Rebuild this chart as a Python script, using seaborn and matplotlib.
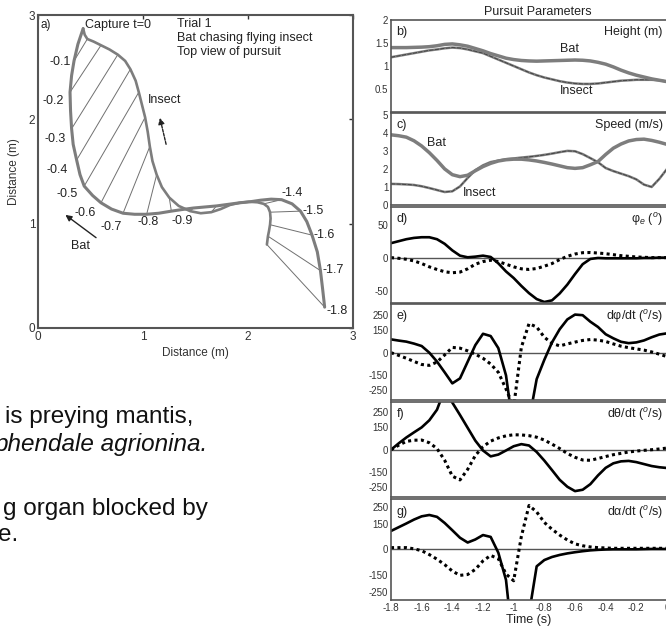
import numpy as np
import matplotlib
matplotlib.use("Agg")
import matplotlib.pyplot as plt
import seaborn as sns

# ── DATA ─────────────────────────────────────────────────────────────────────
# sample times of every series (s, 0.05 s apart, t=0 is capture)
TIME = np.linspace(-1.8, 0.0, 37)

# a) top view of the pursuit (m)
BAT_X = [2.73, 2.71, 2.69, 2.66, 2.61, 2.56, 2.50, 2.42, 2.32, 2.22, 2.12, 2.02, 1.92,
         1.81, 1.70, 1.59, 1.48, 1.37, 1.27, 1.15, 1.035, 0.92, 0.81, 0.70, 0.60, 0.52,
         0.44, 0.40, 0.368, 0.335, 0.32, 0.31, 0.305, 0.32, 0.343, 0.38, 0.43]
BAT_Y = [0.20, 0.38, 0.55, 0.73, 0.89, 1.02, 1.12, 1.19, 1.23, 1.235, 1.225, 1.21, 1.20,
         1.185, 1.17, 1.16, 1.15, 1.135, 1.12, 1.10, 1.09, 1.09, 1.10, 1.14, 1.20, 1.27,
         1.36, 1.47, 1.61, 1.76, 1.91, 2.08, 2.26, 2.42, 2.56, 2.72, 2.87]
INSECT_X = [2.18, 2.185, 2.19, 2.20, 2.21, 2.215, 2.21, 2.19, 2.15, 2.09, 2.01, 1.92, 1.83,
            1.74, 1.65, 1.55, 1.45, 1.34, 1.25, 1.18, 1.13, 1.09, 1.065, 1.045, 1.02, 0.99,
            0.96, 0.93, 0.88, 0.83, 0.76, 0.68, 0.60, 0.53, 0.47, 0.445, 0.43]
INSECT_Y = [0.80, 0.84, 0.88, 0.93, 0.99, 1.05, 1.11, 1.16, 1.19, 1.205, 1.21, 1.20, 1.18,
            1.14, 1.11, 1.10, 1.12, 1.17, 1.25, 1.35, 1.47, 1.60, 1.74, 1.88, 2.02, 2.14,
            2.26, 2.37, 2.48, 2.56, 2.62, 2.67, 2.71, 2.745, 2.77, 2.81, 2.87]

# b) height (m)
HEIGHT_BAT = [1.40, 1.40, 1.40, 1.405, 1.41, 1.42, 1.44, 1.47, 1.48, 1.46, 1.43, 1.38, 1.33,
              1.27, 1.22, 1.17, 1.14, 1.12, 1.11, 1.105, 1.11, 1.115, 1.12, 1.125, 1.13,
              1.125, 1.11, 1.08, 1.04, 0.98, 0.91, 0.85, 0.80, 0.76, 0.72, 0.69, 0.66]
HEIGHT_INSECT = [1.19, 1.22, 1.25, 1.28, 1.31, 1.34, 1.36, 1.385, 1.40, 1.39, 1.36, 1.32,
                 1.28, 1.21, 1.14, 1.07, 1.00, 0.93, 0.86, 0.80, 0.75, 0.71, 0.67, 0.64,
                 0.62, 0.61, 0.61, 0.62, 0.64, 0.66, 0.68, 0.69, 0.70, 0.70, 0.70, 0.69, 0.66]

# c) speed (m/s)
SPEED_BAT = [3.89, 3.84, 3.76, 3.56, 3.27, 2.90, 2.47, 2.00, 1.68, 1.57, 1.65, 1.90, 2.13,
             2.31, 2.44, 2.51, 2.54, 2.54, 2.50, 2.44, 2.36, 2.27, 2.17, 2.07, 2.03, 2.07,
             2.23, 2.41, 2.80, 3.15, 3.38, 3.55, 3.63, 3.65, 3.58, 3.48, 3.36]
SPEED_INSECT = [1.17, 1.16, 1.14, 1.11, 1.04, 0.94, 0.83, 0.72, 0.76, 1.03, 1.50, 1.93, 2.20,
                2.38, 2.46, 2.54, 2.58, 2.63, 2.67, 2.72, 2.78, 2.85, 2.93, 3.00, 2.98, 2.82,
                2.60, 2.37, 2.05, 1.88, 1.74, 1.60, 1.42, 1.13, 1.00, 1.45, 2.00]

# d) phi_e (deg)
PHI_SOLID = [22, 25, 28, 30, 31, 31, 28, 21, 11, 3, 0.5, 1.5, 3, 1, -8.7, -21, -31, -43, -54,
             -63, -67.5, -65, -54.5, -41, -25, -10, -2, -0.5, -1, -1, -1, -1, -1, -0.5, -0.5,
             0, 0]
PHI_DOTTED = [0, -1, -2.5, -5, -9, -14, -18, -21.5, -23, -22, -17, -10, -6, -4, -6, -10, -14,
              -17, -18, -16.5, -13, -9, -3, 2, 5.5, 7.5, 7.8, 7, 6, 4.5, 3, 2, 1, 0.5, 0, 0, 0]

# e) dphi/dt (deg/s)
DPHI_SOLID = [88, 80, 73, 60, 44, 0, -59, -130, -203, -170, -60, 50, 125, 110, 30, -150, -520,
              -800, -450, -175, -47, 68, 155, 220, 252, 248, 205, 170, 122, 95, 72, 63, 68, 81,
              102, 120, 128]
DPHI_DOTTED = [0, -18, -37, -58, -78, -84, -62, -15, 35, 30, 12, -10, -37, -75, -130, -240,
               -360, 35, 192, 170, 102, 62, 45, 58, 70, 81, 87, 83, 74, 58, 43, 33, 25, 17, 5,
               -10, -26]

# f) dtheta/dt (deg/s)
DTHETA_SOLID = [0, 42, 81, 115, 148, 195, 265, 400, 312, 230, 145, 60, -5, -44, -32, -5, 23,
                37, 28, -15, -72, -135, -199, -245, -274, -265, -228, -170, -120, -90, -77, -74,
                -82, -95, -108, -116, -121]
DTHETA_DOTTED = [0, 30, 55, 63, 64, 46, 8, -70, -175, -200, -130, -38, 20, 57, 78, 92, 99, 98,
                 93, 83, 64, 37, 8, -25, -50, -68, -70, -58, -45, -33, -24, -15, -9, -4, 0, 5, 11]

# g) dalpha/dt (deg/s)
DALPHA_SOLID = [108, 130, 152, 175, 194, 202, 191, 155, 112, 68, 40, 58, 84, 73, -20, -180,
                -600, -900, -380, -100, -63, -45, -33, -24, -17, -11, -6, -3, -1, 0, 0, 0, 0,
                1, 2, 2, 2]
DALPHA_DOTTED = [10, 10, 10, 3, -8, -31, -58, -90, -128, -153, -148, -118, -68, -36, -55, -145,
                 -185, 75, 258, 220, 158, 118, 84, 55, 32, 21, 14, 10, 8, 6, 6, 6, 6, 6, 6, 6, 6]

TIME_TICKS = [-1.8, -1.6, -1.4, -1.2, -1.0, -0.8, -0.6, -0.4, -0.2, 0.0]
RATE_TICKS = [-250, -150, 0, 150, 250]

# ── STYLE ────────────────────────────────────────────────────────────────────
sns.set_theme(style="white")
plt.rcParams["font.family"] = ["Liberation Sans", "DejaVu Sans"]
plt.rcParams["mathtext.fontset"] = "custom"
plt.rcParams["mathtext.rm"] = "Liberation Sans"
plt.rcParams["mathtext.it"] = "Liberation Sans:italic"

GREY = "#7d7d7d"
FRAME = "#555555"
INK = "#222222"
DOTS = (0, (1, 1.1))

W, H = 666, 633
fig = plt.figure(figsize=(W / 100, H / 100), dpi=100)


def box(l, t, r, b):
    # pixel box -> figure fraction
    return [l / W, 1 - b / H, (r - l) / W, (b - t) / H]


# ═════════════════════════════════════════════════════════════════════════════
# a) top view
# ═════════════════════════════════════════════════════════════════════════════
ax = fig.add_axes(box(38, 15, 353, 328))
for i in range(0, len(TIME), 2):
    ax.plot([BAT_X[i], INSECT_X[i]], [BAT_Y[i], INSECT_Y[i]], color="#707070", lw=0.7)
sns.lineplot(x=INSECT_X, y=INSECT_Y, sort=False, estimator=None, color=GREY, lw=1.9, ax=ax)
sns.lineplot(x=BAT_X, y=BAT_Y, sort=False, estimator=None, color=GREY, lw=2.2, ax=ax)

ax.set_xlim(0, 3)
ax.set_ylim(0, 3)
ax.set_xticks([0, 1, 2, 3])
ax.set_yticks([0, 1, 2, 3])
ax.tick_params(direction="in", length=3, width=1, labelsize=8.5, colors="#333",
               top=True, right=True, pad=2)
for s in ax.spines.values():
    s.set_color(FRAME)
    s.set_linewidth(1.5)
ax.set_xlabel("Distance (m)", fontsize=8.5, color="#333", labelpad=3)
ax.set_ylabel("Distance (m)", fontsize=8.5, color="#333", labelpad=6)

time_labels = [("-0.1", 0.21, 2.55), ("-0.2", 0.146, 2.18), ("-0.3", 0.162, 1.815),
               ("-0.4", 0.178, 1.51), ("-0.5", 0.273, 1.28), ("-0.6", 0.448, 1.10),
               ("-0.7", 0.70, 0.97), ("-0.8", 1.05, 1.017), ("-0.9", 1.37, 1.03),
               ("-1.4", 2.42, 1.29), ("-1.5", 2.62, 1.12), ("-1.6", 2.73, 0.89),
               ("-1.7", 2.81, 0.56), ("-1.8", 2.845, 0.165)]
for lab, x, y in time_labels:
    ax.text(x, y, lab, fontsize=9, color=INK, ha="center", va="center")

ax.text(0.07, 2.90, "a)", fontsize=8.5, color=INK, ha="center", va="center")
ax.text(0.45, 2.90, "Capture t=0", fontsize=9, color=INK, ha="left", va="center")
ax.text(1.32, 2.915, "Trial 1", fontsize=9, color=INK, ha="left", va="center")
ax.text(1.32, 2.78, "Bat chasing flying insect", fontsize=9, color=INK, ha="left", va="center")
ax.text(1.32, 2.645, "Top view of pursuit", fontsize=9, color=INK, ha="left", va="center")
ax.text(1.05, 2.19, "Insect", fontsize=9, color=INK, ha="left", va="center")
ax.text(0.40, 0.79, "Bat", fontsize=9, color=INK, ha="center", va="center")
ax.annotate("", xy=(1.155, 2.04), xytext=(1.226, 1.735),
            arrowprops=dict(arrowstyle="-|>", color=INK, lw=1, ls=(0, (2, 1)),
                            mutation_scale=9))
ax.annotate("", xy=(0.24, 1.10), xytext=(0.574, 0.85),
            arrowprops=dict(arrowstyle="-|>", color=INK, lw=1, mutation_scale=9))

# ═════════════════════════════════════════════════════════════════════════════
# b) – g) pursuit parameters
# ═════════════════════════════════════════════════════════════════════════════
def panel(top, bottom, ylim, yticks, xticks=TIME_TICKS):
    a = fig.add_axes(box(391, top, 667, bottom))
    a.set_xlim(-1.8, 0)
    a.set_ylim(*ylim)
    a.set_yticks(yticks)
    a.set_yticklabels([f"{v:g}" for v in yticks])
    a.set_xticks(xticks)
    a.set_xticklabels([])
    a.tick_params(direction="in", length=3, width=1, labelsize=7, colors="#333", pad=2)
    for s in a.spines.values():
        s.set_color(FRAME)
        s.set_linewidth(1.2)
    return a


def tag(a, left, right):
    a.text(0.02, 0.87, left, transform=a.transAxes, fontsize=9, color=INK,
           ha="left", va="center")
    a.text(0.985, 0.87, right, transform=a.transAxes, fontsize=9, color=INK,
           ha="right", va="center")


# b) height
ax_b = panel(20, 112, (0, 2), [0.5, 1, 1.5, 2])
sns.lineplot(x=TIME, y=HEIGHT_INSECT, color=GREY, lw=1.8, ax=ax_b)
sns.lineplot(x=TIME, y=HEIGHT_INSECT, color="#333", lw=0.5, ls=(0, (6, 2)), ax=ax_b)
sns.lineplot(x=TIME, y=HEIGHT_BAT, color=GREY, lw=2.5, ax=ax_b)
ax_b.text(-0.634, 1.36, "Bat", fontsize=9, color=INK, ha="center", va="center")
ax_b.text(-0.59, 0.46, "Insect", fontsize=9, color=INK, ha="center", va="center")
tag(ax_b, "b)", "Height (m)")
fig.text(538 / W, 1 - 12 / H, "Pursuit Parameters", fontsize=9, color=INK,
         ha="center", va="center")

# c) speed
ax_c = panel(113, 205, (0, 5.1), [0, 1, 2, 3, 4, 5])
sns.lineplot(x=TIME, y=SPEED_INSECT, color=GREY, lw=1.8, ax=ax_c)
sns.lineplot(x=TIME, y=SPEED_INSECT, color="#333", lw=0.5, ls=(0, (6, 2)), ax=ax_c)
sns.lineplot(x=TIME, y=SPEED_BAT, color=GREY, lw=2.5, ax=ax_c)
ax_c.text(-1.50, 3.43, "Bat", fontsize=9, color=INK, ha="center", va="center")
ax_c.text(-1.22, 0.65, "Insect", fontsize=9, color=INK, ha="center", va="center")
tag(ax_c, "c)", "Speed (m/s)")

# d) – g) angles and angular rates
rate_panels = [
    (207, 303, (-69, 77), [-50, 0, 50], PHI_SOLID, PHI_DOTTED,
     "d)", "φ$_{e}$ ($^{o}$)", [-1.5, -1.0, -0.5]),
    (304, 400, (-313, 322), RATE_TICKS, DPHI_SOLID, DPHI_DOTTED,
     "e)", "dφ/dt ($^{o}$/s)", TIME_TICKS),
    (402, 497, (-313, 316), RATE_TICKS, DTHETA_SOLID, DTHETA_DOTTED,
     "f)", "dθ/dt ($^{o}$/s)", TIME_TICKS),
    (499, 600, (-298, 296), RATE_TICKS, DALPHA_SOLID, DALPHA_DOTTED,
     "g)", "dα/dt ($^{o}$/s)", TIME_TICKS),
]
for top, bottom, ylim, yticks, solid, dotted, left, right, xt in rate_panels:
    a = panel(top, bottom, ylim, yticks, xt)
    a.axhline(0, color=FRAME, lw=1.0)
    sns.lineplot(x=TIME, y=dotted, color="black", lw=2.2, ls=DOTS, ax=a)
    sns.lineplot(x=TIME, y=solid, color="black", lw=1.9, ax=a)
    tag(a, left, right)
    ax_g = a

ax_g.set_xticklabels([f"{v:g}" for v in TIME_TICKS])
ax_g.set_xlabel("Time (s)", fontsize=9, color=INK, labelpad=1)

# ── cut-off slide text, lower left ───────────────────────────────────────────
fig.text(193 / W, 1 - 423 / H, "is preying mantis,", fontsize=17.5, color="#111",
         ha="right", va="baseline")
fig.text(208 / W, 1 - 451 / H, "phendale agrionina.", fontsize=17.5, color="#111",
         style="italic", ha="right", va="baseline")
fig.text(208 / W, 1 - 515 / H, "g organ blocked by", fontsize=17.5, color="#111",
         ha="right", va="baseline")
fig.text(18 / W, 1 - 541 / H, "e.", fontsize=17.5, color="#111",
         ha="right", va="baseline")

fig.savefig("out.png", dpi=100)
plt.close(fig)
